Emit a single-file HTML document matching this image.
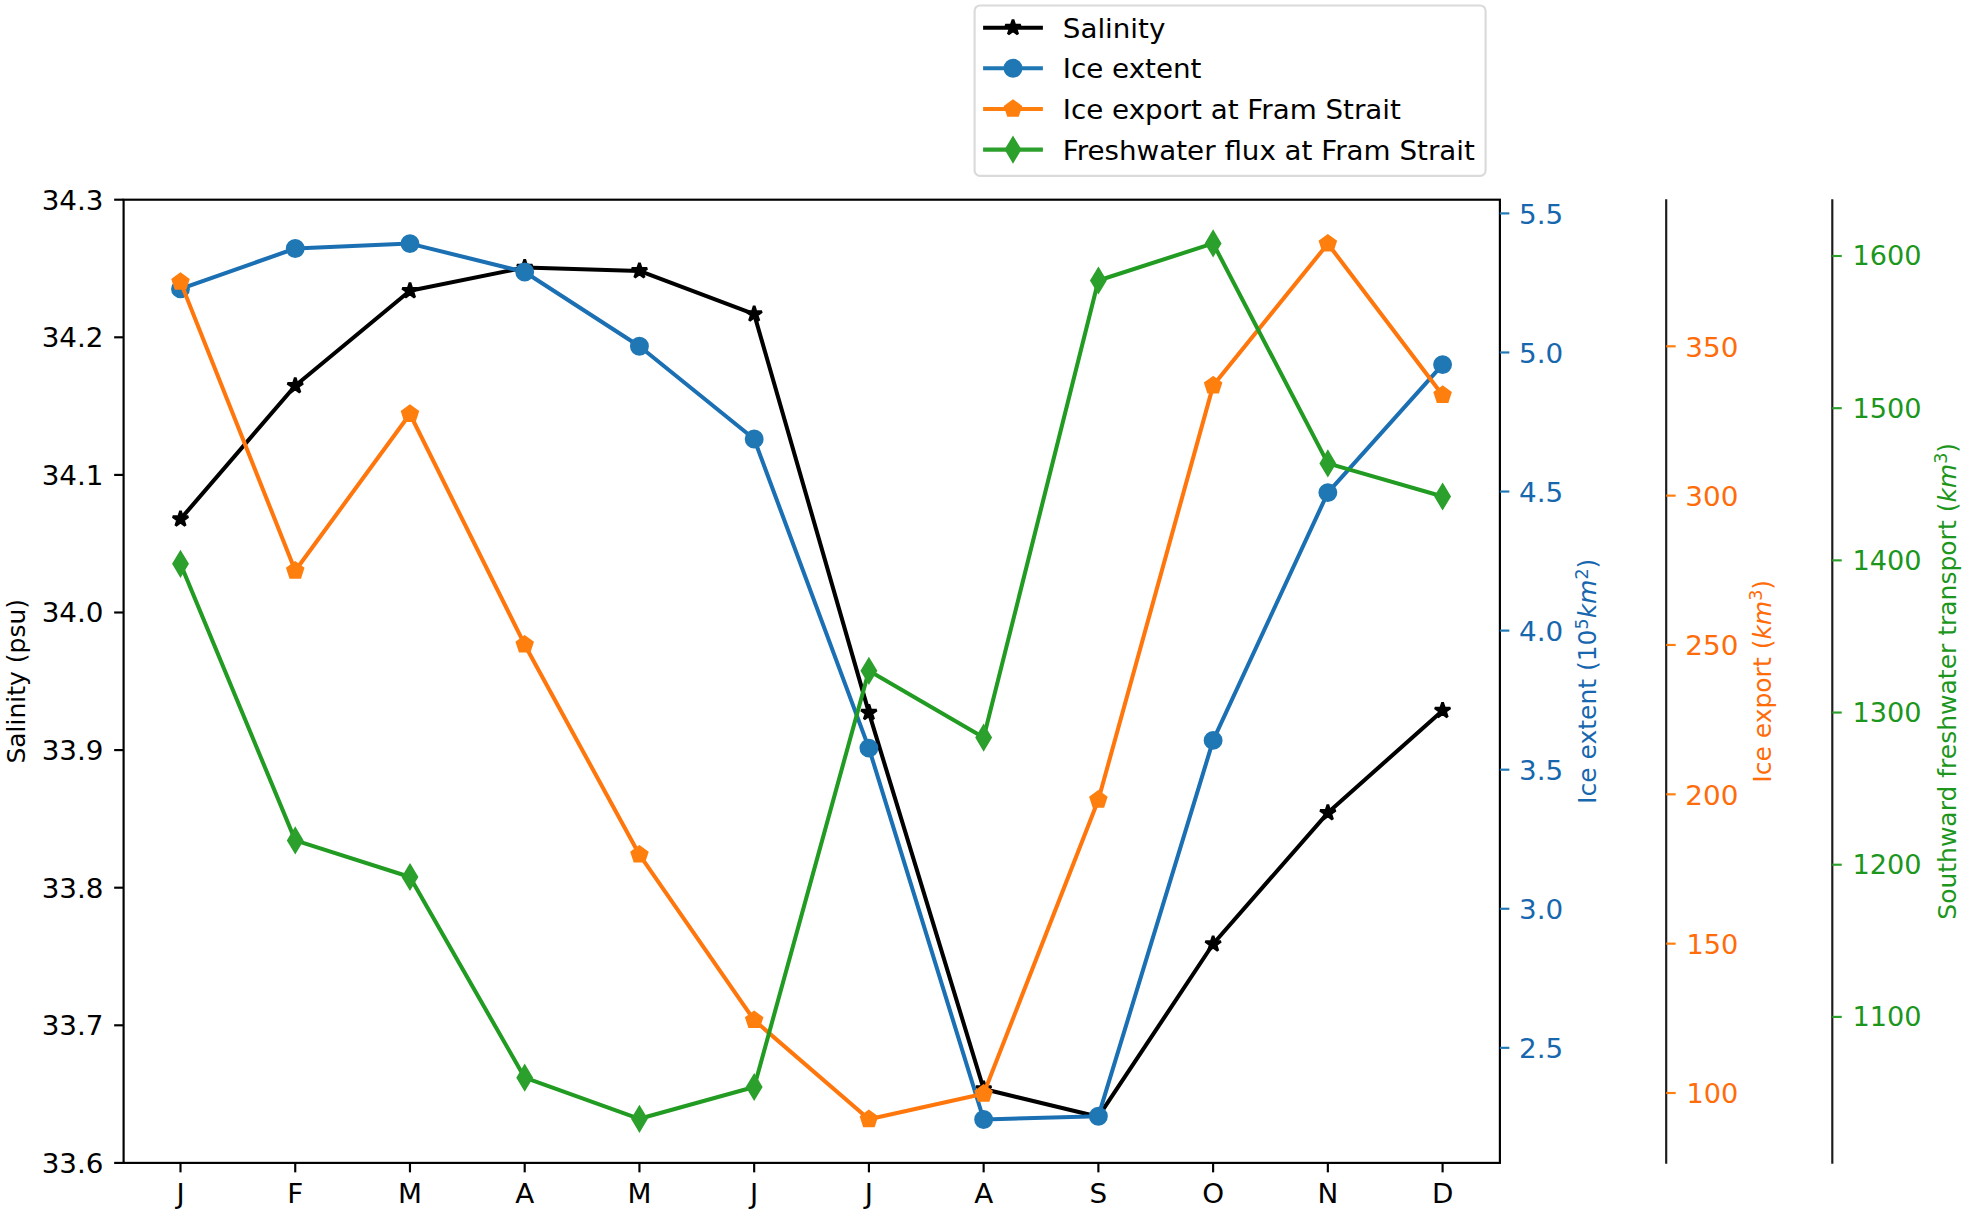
<!DOCTYPE html>
<html lang="en">
<head>
<meta charset="utf-8">
<title>Seasonal cycle: salinity, ice extent, ice export and freshwater flux</title>
<style>
html,body{margin:0;padding:0;background:#fff;}
body{width:1969px;height:1217px;overflow:hidden;}
svg{display:block;}
svg text{font-family:"DejaVu Sans","Liberation Sans",sans-serif;}
.t{font-size:27px;}
.l{font-size:24.3px;}
.i{font-style:italic;}
</style>
</head>
<body>
<svg width="1969" height="1217" viewBox="0 0 1969 1217">
<rect x="0" y="0" width="1969" height="1217" fill="#ffffff"/>
<defs><clipPath id="ax"><rect x="123.6" y="199.7" width="1376.3" height="963.2"/></clipPath></defs>
<g clip-path="url(#ax)">
<polyline fill="none" stroke="#000000" stroke-width="4.05" stroke-linejoin="round" stroke-linecap="square" points="180.5,519.1 295.24,385.8 409.97,290.8 524.7,267.5 639.44,270.9 754.17,314.1 868.91,712.6 983.64,1089 1098.38,1116.7 1213.12,944 1327.85,812.8 1442.59,710.5"/>
<polygon points="180.5,511 178.68,516.6 172.8,516.6 177.56,520.06 175.74,525.65 180.5,522.19 185.26,525.65 183.44,520.06 188.2,516.6 182.32,516.6" fill="#000000" stroke="#000000" stroke-width="2.7" stroke-linejoin="bevel"/>
<polygon points="295.24,377.7 293.42,383.3 287.53,383.3 292.29,386.76 290.47,392.35 295.24,388.89 300,392.35 298.18,386.76 302.94,383.3 297.05,383.3" fill="#000000" stroke="#000000" stroke-width="2.7" stroke-linejoin="bevel"/>
<polygon points="409.97,282.7 408.15,288.3 402.27,288.3 407.03,291.76 405.21,297.35 409.97,293.89 414.73,297.35 412.91,291.76 417.67,288.3 411.79,288.3" fill="#000000" stroke="#000000" stroke-width="2.7" stroke-linejoin="bevel"/>
<polygon points="524.7,259.4 522.89,265 517,265 521.76,268.46 519.94,274.05 524.7,270.59 529.47,274.05 527.65,268.46 532.41,265 526.52,265" fill="#000000" stroke="#000000" stroke-width="2.7" stroke-linejoin="bevel"/>
<polygon points="639.44,262.8 637.62,268.4 631.74,268.4 636.5,271.86 634.68,277.45 639.44,273.99 644.2,277.45 642.38,271.86 647.14,268.4 641.26,268.4" fill="#000000" stroke="#000000" stroke-width="2.7" stroke-linejoin="bevel"/>
<polygon points="754.17,306 752.36,311.6 746.47,311.6 751.23,315.06 749.41,320.65 754.17,317.19 758.94,320.65 757.12,315.06 761.88,311.6 755.99,311.6" fill="#000000" stroke="#000000" stroke-width="2.7" stroke-linejoin="bevel"/>
<polygon points="868.91,704.5 867.09,710.1 861.21,710.1 865.97,713.56 864.15,719.15 868.91,715.69 873.67,719.15 871.85,713.56 876.61,710.1 870.73,710.1" fill="#000000" stroke="#000000" stroke-width="2.7" stroke-linejoin="bevel"/>
<polygon points="983.64,1080.9 981.83,1086.5 975.94,1086.5 980.7,1089.96 978.88,1095.55 983.64,1092.09 988.41,1095.55 986.59,1089.96 991.35,1086.5 985.46,1086.5" fill="#000000" stroke="#000000" stroke-width="2.7" stroke-linejoin="bevel"/>
<polygon points="1098.38,1108.6 1096.56,1114.2 1090.68,1114.2 1095.44,1117.66 1093.62,1123.25 1098.38,1119.79 1103.14,1123.25 1101.32,1117.66 1106.08,1114.2 1100.2,1114.2" fill="#000000" stroke="#000000" stroke-width="2.7" stroke-linejoin="bevel"/>
<polygon points="1213.12,935.9 1211.3,941.5 1205.41,941.5 1210.17,944.96 1208.35,950.55 1213.12,947.09 1217.88,950.55 1216.06,944.96 1220.82,941.5 1214.93,941.5" fill="#000000" stroke="#000000" stroke-width="2.7" stroke-linejoin="bevel"/>
<polygon points="1327.85,804.7 1326.03,810.3 1320.15,810.3 1324.91,813.76 1323.09,819.35 1327.85,815.89 1332.61,819.35 1330.79,813.76 1335.55,810.3 1329.67,810.3" fill="#000000" stroke="#000000" stroke-width="2.7" stroke-linejoin="bevel"/>
<polygon points="1442.59,702.4 1440.77,708 1434.88,708 1439.64,711.46 1437.82,717.05 1442.59,713.59 1447.35,717.05 1445.53,711.46 1450.29,708 1444.4,708" fill="#000000" stroke="#000000" stroke-width="2.7" stroke-linejoin="bevel"/>
<polyline fill="none" stroke="#1b70b3" stroke-width="4.05" stroke-linejoin="round" stroke-linecap="square" points="180.5,288.9 295.24,248.5 409.97,243.6 524.7,272 639.44,346.2 754.17,439 868.91,748.1 983.64,1119.5 1098.38,1116.2 1213.12,740.4 1327.85,492.6 1442.59,364.6"/>
<circle cx="180.5" cy="288.9" r="8.1" fill="#1f77b4" stroke="#1f77b4" stroke-width="2.7"/>
<circle cx="295.24" cy="248.5" r="8.1" fill="#1f77b4" stroke="#1f77b4" stroke-width="2.7"/>
<circle cx="409.97" cy="243.6" r="8.1" fill="#1f77b4" stroke="#1f77b4" stroke-width="2.7"/>
<circle cx="524.7" cy="272" r="8.1" fill="#1f77b4" stroke="#1f77b4" stroke-width="2.7"/>
<circle cx="639.44" cy="346.2" r="8.1" fill="#1f77b4" stroke="#1f77b4" stroke-width="2.7"/>
<circle cx="754.17" cy="439" r="8.1" fill="#1f77b4" stroke="#1f77b4" stroke-width="2.7"/>
<circle cx="868.91" cy="748.1" r="8.1" fill="#1f77b4" stroke="#1f77b4" stroke-width="2.7"/>
<circle cx="983.64" cy="1119.5" r="8.1" fill="#1f77b4" stroke="#1f77b4" stroke-width="2.7"/>
<circle cx="1098.38" cy="1116.2" r="8.1" fill="#1f77b4" stroke="#1f77b4" stroke-width="2.7"/>
<circle cx="1213.12" cy="740.4" r="8.1" fill="#1f77b4" stroke="#1f77b4" stroke-width="2.7"/>
<circle cx="1327.85" cy="492.6" r="8.1" fill="#1f77b4" stroke="#1f77b4" stroke-width="2.7"/>
<circle cx="1442.59" cy="364.6" r="8.1" fill="#1f77b4" stroke="#1f77b4" stroke-width="2.7"/>
<polyline fill="none" stroke="#ff770c" stroke-width="4.05" stroke-linejoin="round" stroke-linecap="square" points="180.5,281.9 295.24,570.8 409.97,414 524.7,644.7 639.44,854.7 754.17,1020.2 868.91,1119.3 983.64,1093.8 1098.38,799.8 1213.12,385.6 1327.85,243.7 1442.59,395.1"/>
<polygon points="180.5,273.8 172.8,279.4 175.74,288.45 185.26,288.45 188.2,279.4" fill="#ff7f0e" stroke="#ff7f0e" stroke-width="2.7" stroke-linejoin="miter"/>
<polygon points="295.24,562.7 287.53,568.3 290.47,577.35 300,577.35 302.94,568.3" fill="#ff7f0e" stroke="#ff7f0e" stroke-width="2.7" stroke-linejoin="miter"/>
<polygon points="409.97,405.9 402.27,411.5 405.21,420.55 414.73,420.55 417.67,411.5" fill="#ff7f0e" stroke="#ff7f0e" stroke-width="2.7" stroke-linejoin="miter"/>
<polygon points="524.7,636.6 517,642.2 519.94,651.25 529.47,651.25 532.41,642.2" fill="#ff7f0e" stroke="#ff7f0e" stroke-width="2.7" stroke-linejoin="miter"/>
<polygon points="639.44,846.6 631.74,852.2 634.68,861.25 644.2,861.25 647.14,852.2" fill="#ff7f0e" stroke="#ff7f0e" stroke-width="2.7" stroke-linejoin="miter"/>
<polygon points="754.17,1012.1 746.47,1017.7 749.41,1026.75 758.94,1026.75 761.88,1017.7" fill="#ff7f0e" stroke="#ff7f0e" stroke-width="2.7" stroke-linejoin="miter"/>
<polygon points="868.91,1111.2 861.21,1116.8 864.15,1125.85 873.67,1125.85 876.61,1116.8" fill="#ff7f0e" stroke="#ff7f0e" stroke-width="2.7" stroke-linejoin="miter"/>
<polygon points="983.64,1085.7 975.94,1091.3 978.88,1100.35 988.41,1100.35 991.35,1091.3" fill="#ff7f0e" stroke="#ff7f0e" stroke-width="2.7" stroke-linejoin="miter"/>
<polygon points="1098.38,791.7 1090.68,797.3 1093.62,806.35 1103.14,806.35 1106.08,797.3" fill="#ff7f0e" stroke="#ff7f0e" stroke-width="2.7" stroke-linejoin="miter"/>
<polygon points="1213.12,377.5 1205.41,383.1 1208.35,392.15 1217.88,392.15 1220.82,383.1" fill="#ff7f0e" stroke="#ff7f0e" stroke-width="2.7" stroke-linejoin="miter"/>
<polygon points="1327.85,235.6 1320.15,241.2 1323.09,250.25 1332.61,250.25 1335.55,241.2" fill="#ff7f0e" stroke="#ff7f0e" stroke-width="2.7" stroke-linejoin="miter"/>
<polygon points="1442.59,387 1434.88,392.6 1437.82,401.65 1447.35,401.65 1450.29,392.6" fill="#ff7f0e" stroke="#ff7f0e" stroke-width="2.7" stroke-linejoin="miter"/>
<polyline fill="none" stroke="#229b22" stroke-width="4.05" stroke-linejoin="round" stroke-linecap="square" points="180.5,563.8 295.24,840.4 409.97,877 524.7,1077.7 639.44,1118.8 754.17,1087 868.91,670.8 983.64,737.6 1098.38,280.5 1213.12,243.4 1327.85,463.4 1442.59,496.5"/>
<polygon points="180.5,552.34 187.37,563.8 180.5,575.26 173.63,563.8" fill="#2ca02c" stroke="#2ca02c" stroke-width="2.7" stroke-linejoin="miter" stroke-miterlimit="10"/>
<polygon points="295.24,828.94 302.11,840.4 295.24,851.86 288.36,840.4" fill="#2ca02c" stroke="#2ca02c" stroke-width="2.7" stroke-linejoin="miter" stroke-miterlimit="10"/>
<polygon points="409.97,865.54 416.84,877 409.97,888.46 403.1,877" fill="#2ca02c" stroke="#2ca02c" stroke-width="2.7" stroke-linejoin="miter" stroke-miterlimit="10"/>
<polygon points="524.7,1066.24 531.58,1077.7 524.7,1089.16 517.83,1077.7" fill="#2ca02c" stroke="#2ca02c" stroke-width="2.7" stroke-linejoin="miter" stroke-miterlimit="10"/>
<polygon points="639.44,1107.34 646.31,1118.8 639.44,1130.26 632.57,1118.8" fill="#2ca02c" stroke="#2ca02c" stroke-width="2.7" stroke-linejoin="miter" stroke-miterlimit="10"/>
<polygon points="754.17,1075.54 761.05,1087 754.17,1098.46 747.3,1087" fill="#2ca02c" stroke="#2ca02c" stroke-width="2.7" stroke-linejoin="miter" stroke-miterlimit="10"/>
<polygon points="868.91,659.34 875.78,670.8 868.91,682.26 862.04,670.8" fill="#2ca02c" stroke="#2ca02c" stroke-width="2.7" stroke-linejoin="miter" stroke-miterlimit="10"/>
<polygon points="983.64,726.14 990.52,737.6 983.64,749.06 976.77,737.6" fill="#2ca02c" stroke="#2ca02c" stroke-width="2.7" stroke-linejoin="miter" stroke-miterlimit="10"/>
<polygon points="1098.38,269.04 1105.25,280.5 1098.38,291.96 1091.51,280.5" fill="#2ca02c" stroke="#2ca02c" stroke-width="2.7" stroke-linejoin="miter" stroke-miterlimit="10"/>
<polygon points="1213.12,231.94 1219.99,243.4 1213.12,254.86 1206.24,243.4" fill="#2ca02c" stroke="#2ca02c" stroke-width="2.7" stroke-linejoin="miter" stroke-miterlimit="10"/>
<polygon points="1327.85,451.94 1334.72,463.4 1327.85,474.86 1320.98,463.4" fill="#2ca02c" stroke="#2ca02c" stroke-width="2.7" stroke-linejoin="miter" stroke-miterlimit="10"/>
<polygon points="1442.59,485.04 1449.46,496.5 1442.59,507.96 1435.71,496.5" fill="#2ca02c" stroke="#2ca02c" stroke-width="2.7" stroke-linejoin="miter" stroke-miterlimit="10"/>
</g>
<g fill="none" stroke="#000" stroke-width="2.16" stroke-linecap="square">
<rect x="123.6" y="199.7" width="1376.3" height="963.2"/>
<line x1="1666.2" y1="199.3" x2="1666.2" y2="1163.7" stroke="#1c1c1c" stroke-linecap="butt"/>
<line x1="1832.3" y1="199.3" x2="1832.3" y2="1163.7" stroke="#1c1c1c" stroke-linecap="butt"/>
</g>
<g stroke="#000" stroke-width="2.16">
<line x1="114.15" y1="199.7" x2="123.6" y2="199.7"/>
<line x1="114.15" y1="337.3" x2="123.6" y2="337.3"/>
<line x1="114.15" y1="474.9" x2="123.6" y2="474.9"/>
<line x1="114.15" y1="612.5" x2="123.6" y2="612.5"/>
<line x1="114.15" y1="750.1" x2="123.6" y2="750.1"/>
<line x1="114.15" y1="887.7" x2="123.6" y2="887.7"/>
<line x1="114.15" y1="1025.3" x2="123.6" y2="1025.3"/>
<line x1="114.15" y1="1162.9" x2="123.6" y2="1162.9"/>
<line x1="180.5" y1="1162.9" x2="180.5" y2="1172.35"/>
<line x1="295.24" y1="1162.9" x2="295.24" y2="1172.35"/>
<line x1="409.97" y1="1162.9" x2="409.97" y2="1172.35"/>
<line x1="524.7" y1="1162.9" x2="524.7" y2="1172.35"/>
<line x1="639.44" y1="1162.9" x2="639.44" y2="1172.35"/>
<line x1="754.17" y1="1162.9" x2="754.17" y2="1172.35"/>
<line x1="868.91" y1="1162.9" x2="868.91" y2="1172.35"/>
<line x1="983.64" y1="1162.9" x2="983.64" y2="1172.35"/>
<line x1="1098.38" y1="1162.9" x2="1098.38" y2="1172.35"/>
<line x1="1213.12" y1="1162.9" x2="1213.12" y2="1172.35"/>
<line x1="1327.85" y1="1162.9" x2="1327.85" y2="1172.35"/>
<line x1="1442.59" y1="1162.9" x2="1442.59" y2="1172.35"/>
</g>
<g class="t" fill="#000" text-anchor="end">
<text transform="translate(103.5,209.64) scale(1.029,1)">34.3</text>
<text transform="translate(103.5,347.24) scale(1.029,1)">34.2</text>
<text transform="translate(103.5,484.84) scale(1.029,1)">34.1</text>
<text transform="translate(103.5,622.44) scale(1.029,1)">34.0</text>
<text transform="translate(103.5,760.04) scale(1.029,1)">33.9</text>
<text transform="translate(103.5,897.64) scale(1.029,1)">33.8</text>
<text transform="translate(103.5,1035.24) scale(1.029,1)">33.7</text>
<text transform="translate(103.5,1172.84) scale(1.029,1)">33.6</text>
</g>
<g class="t" fill="#000" text-anchor="middle">
<text transform="translate(180.5,1202.9) scale(1.029,1)">J</text>
<text transform="translate(295.24,1202.9) scale(1.029,1)">F</text>
<text transform="translate(409.97,1202.9) scale(1.029,1)">M</text>
<text transform="translate(524.7,1202.9) scale(1.029,1)">A</text>
<text transform="translate(639.44,1202.9) scale(1.029,1)">M</text>
<text transform="translate(754.17,1202.9) scale(1.029,1)">J</text>
<text transform="translate(868.91,1202.9) scale(1.029,1)">J</text>
<text transform="translate(983.64,1202.9) scale(1.029,1)">A</text>
<text transform="translate(1098.38,1202.9) scale(1.029,1)">S</text>
<text transform="translate(1213.12,1202.9) scale(1.029,1)">O</text>
<text transform="translate(1327.85,1202.9) scale(1.029,1)">N</text>
<text transform="translate(1442.59,1202.9) scale(1.029,1)">D</text>
</g>
<g stroke="#1f77b4" stroke-width="2.16">
<line x1="1499.9" y1="213.4" x2="1509.35" y2="213.4"/>
<line x1="1499.9" y1="352.47" x2="1509.35" y2="352.47"/>
<line x1="1499.9" y1="491.54" x2="1509.35" y2="491.54"/>
<line x1="1499.9" y1="630.61" x2="1509.35" y2="630.61"/>
<line x1="1499.9" y1="769.68" x2="1509.35" y2="769.68"/>
<line x1="1499.9" y1="908.75" x2="1509.35" y2="908.75"/>
<line x1="1499.9" y1="1047.82" x2="1509.35" y2="1047.82"/>
</g>
<g class="t" fill="#1767ae">
<text transform="translate(1519,223.74) scale(1.029,1)">5.5</text>
<text transform="translate(1519,362.81) scale(1.029,1)">5.0</text>
<text transform="translate(1519,501.88) scale(1.029,1)">4.5</text>
<text transform="translate(1519,640.95) scale(1.029,1)">4.0</text>
<text transform="translate(1519,780.02) scale(1.029,1)">3.5</text>
<text transform="translate(1519,919.09) scale(1.029,1)">3.0</text>
<text transform="translate(1519,1058.16) scale(1.029,1)">2.5</text>
</g>
<g stroke="#ff7f0e" stroke-width="2.16">
<line x1="1666.2" y1="346.3" x2="1675.65" y2="346.3"/>
<line x1="1666.2" y1="495.64" x2="1675.65" y2="495.64"/>
<line x1="1666.2" y1="644.98" x2="1675.65" y2="644.98"/>
<line x1="1666.2" y1="794.32" x2="1675.65" y2="794.32"/>
<line x1="1666.2" y1="943.66" x2="1675.65" y2="943.66"/>
<line x1="1666.2" y1="1093" x2="1675.65" y2="1093"/>
</g>
<g class="t" fill="#ff6c0a">
<text transform="translate(1685.3,356.64) scale(1.029,1)">350</text>
<text transform="translate(1685.3,505.98) scale(1.029,1)">300</text>
<text transform="translate(1685.3,655.32) scale(1.029,1)">250</text>
<text transform="translate(1685.3,804.66) scale(1.029,1)">200</text>
<text transform="translate(1686.5,954) scale(1.005,1)">150</text>
<text transform="translate(1686.5,1103.34) scale(1.005,1)">100</text>
</g>
<g stroke="#2ca02c" stroke-width="2.16">
<line x1="1832.3" y1="256" x2="1841.75" y2="256"/>
<line x1="1832.3" y1="408.18" x2="1841.75" y2="408.18"/>
<line x1="1832.3" y1="560.36" x2="1841.75" y2="560.36"/>
<line x1="1832.3" y1="712.54" x2="1841.75" y2="712.54"/>
<line x1="1832.3" y1="864.72" x2="1841.75" y2="864.72"/>
<line x1="1832.3" y1="1016.9" x2="1841.75" y2="1016.9"/>
</g>
<g class="t" fill="#1c961c">
<text transform="translate(1852.6,265.34) scale(1.005,1)">1600</text>
<text transform="translate(1852.6,417.52) scale(1.005,1)">1500</text>
<text transform="translate(1852.6,569.7) scale(1.005,1)">1400</text>
<text transform="translate(1852.6,721.88) scale(1.005,1)">1300</text>
<text transform="translate(1852.6,874.06) scale(1.005,1)">1200</text>
<text transform="translate(1852.6,1026.24) scale(1.005,1)">1100</text>
</g>
<g class="l" text-anchor="middle">
<text transform="translate(25.2,681.3) rotate(-90) scale(1.029,1)" fill="#000">Salinity (psu)</text>
<text transform="translate(1596.4,681.3) rotate(-90) scale(1.029,1)" fill="#1767ae">Ice extent (10<tspan dy="-8.8" font-size="17">5</tspan><tspan dy="8.8" class="i">km</tspan><tspan dy="-8.8" font-size="17">2</tspan><tspan dy="8.8">)</tspan></text>
<text transform="translate(1771.2,681.3) rotate(-90) scale(1.029,1)" fill="#ff6c0a">Ice export (<tspan class="i">km</tspan><tspan dy="-8.8" font-size="17">3</tspan><tspan dy="8.8">)</tspan></text>
<text transform="translate(1955.5,681.3) rotate(-90) scale(1.029,1)" fill="#1c961c">Southward freshwater transport (<tspan class="i">km</tspan><tspan dy="-8.8" font-size="17">3</tspan><tspan dy="8.8">)</tspan></text>
</g>
<rect x="974.6" y="5.5" width="511" height="170.4" rx="5.4" ry="5.4" fill="#ffffff" fill-opacity="0.8" stroke="#dadada" stroke-width="2.16"/>
<line x1="983.1" y1="27.65" x2="1042.9" y2="27.65" stroke="#000000" stroke-width="4.05"/>
<polygon points="1013,19.55 1011.18,25.15 1005.3,25.15 1010.06,28.61 1008.24,34.2 1013,30.74 1017.76,34.2 1015.94,28.61 1020.7,25.15 1014.82,25.15" fill="#000000" stroke="#000000" stroke-width="2.7" stroke-linejoin="bevel"/>
<text transform="translate(1062.8,37.75) scale(1.027,1)" class="t" fill="#000">Salinity</text>
<line x1="983.1" y1="68.3" x2="1042.9" y2="68.3" stroke="#1f77b4" stroke-width="4.05"/>
<circle cx="1013" cy="68.3" r="8.1" fill="#1f77b4" stroke="#1f77b4" stroke-width="2.7"/>
<text transform="translate(1062.8,78.4) scale(1.027,1)" class="t" fill="#000">Ice extent</text>
<line x1="983.1" y1="108.95" x2="1042.9" y2="108.95" stroke="#ff7f0e" stroke-width="4.05"/>
<polygon points="1013,100.85 1005.3,106.45 1008.24,115.5 1017.76,115.5 1020.7,106.45" fill="#ff7f0e" stroke="#ff7f0e" stroke-width="2.7" stroke-linejoin="miter"/>
<text transform="translate(1062.8,119.05) scale(1.027,1)" class="t" fill="#000">Ice export at Fram Strait</text>
<line x1="983.1" y1="149.6" x2="1042.9" y2="149.6" stroke="#2ca02c" stroke-width="4.05"/>
<polygon points="1013,138.14 1019.87,149.6 1013,161.06 1006.13,149.6" fill="#2ca02c" stroke="#2ca02c" stroke-width="2.7" stroke-linejoin="miter" stroke-miterlimit="10"/>
<text transform="translate(1062.8,159.7) scale(1.027,1)" class="t" fill="#000">Freshwater flux at Fram Strait</text>
</svg>
</body>
</html>
